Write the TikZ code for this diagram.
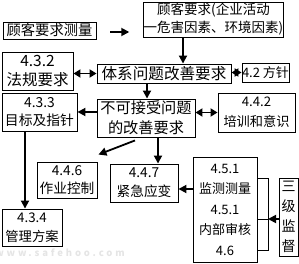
\documentclass[tikz,border=0pt]{standalone}
\usepackage{fontspec}
\setmainfont{Noto Sans CJK SC}
\usetikzlibrary{arrows.meta}
\tikzset{
  box/.style={draw, line width=0.9pt, inner sep=0pt, align=center},
  arr/.style={line width=1.8pt, -{Triangle[length=8pt,width=8pt]}},
  darr/.style={line width=1.8pt, {Triangle[length=7pt,width=8pt]}-{Triangle[length=7pt,width=8pt]}},
  brk/.style={line width=0.9pt},
}
\newcommand{\fs}[2]{\fontsize{#1}{#2}\selectfont}
\begin{document}
\begin{tikzpicture}[x=1pt,y=-1pt]
\useasboundingbox (0,0) rectangle (299,264);
\node[box, minimum width=93pt, minimum height=17pt, font=\fs{14.3}{19}] (A) at (49.5,30.5) {顾客要求测量};
\node[box, minimum width=139pt, minimum height=35pt, font=\fs{13.5}{18}] (B) at (213.5,19.5) {顾客要求(企业活动\\一危害因素、环境因素)};
\node[box, minimum width=134pt, minimum height=19pt, font=\fs{15.6}{19}] (C) at (164,73.5) {体系问题改善要求};
\node[box, minimum width=45pt, minimum height=19pt, font=\fs{13}{19}] (D) at (265.5,72.5) {4.2 方针};
\node[box, minimum width=71pt, minimum height=38pt, font=\fs{15.5}{19.5}] (E) at (37.5,71) {4.3.2\\法规要求};
\node[box, minimum width=98pt, minimum height=38pt, font=\fs{15.2}{20}] (F) at (146,118) {不可接受问题\\的改善要求};
\node[box, minimum width=77pt, minimum height=39pt, font=\fs{13.2}{20}] (G) at (256.5,112.5) {4.4.2\\培训和意识};
\node[box, minimum width=75pt, minimum height=38pt, font=\fs{13.8}{18.5}] (H) at (39.5,112) {4.3.3\\目标及指针};
\node[box, minimum width=60pt, minimum height=36pt, font=\fs{13.7}{18.5}] (I) at (67,180) {4.4.6\\作业控制};
\node[box, minimum width=68pt, minimum height=38pt, font=\fs{13.7}{19}] (J) at (144,183) {4.4.7\\紧急应变};
\node[box, minimum width=64pt, minimum height=105pt, font=\fs{13}{20.5}] (K) at (225,209.5) {4.5.1\\监测测量\\4.5.1\\内部审核\\4.6};
\node[box, minimum width=19pt, minimum height=78pt, font=\fs{14}{20}] (L) at (288.5,217) {三\\级\\监\\督};
\node[box, minimum width=60pt, minimum height=37pt, font=\fs{13.3}{19}] (M) at (32,227.5) {4.3.4\\管理方案};
\node[font=\bfseries\fs{9.5}{10}\addfontfeature{LetterSpace=30}, text=gray!20] (W) at (60,253) {www.safehoo.com};
\coordinate (brt) at (268,178);
\coordinate (brm) at (268,219);
\coordinate (brb) at (268,250);
% connectors
\draw[arr, shorten <=14pt, shorten >=14pt] ([yshift=-1.5pt]A.east) -- ([yshift=-1.5pt]A.east -| B.west);
\draw[arr] ([xshift=-30.5pt]B.south) -- ([xshift=-30.5pt]B.south |- C.north);
\draw[darr] (D.west -| C.east) -- (D.west);
\draw[darr] (C.west -| E.east) -- (C.west);
\draw[arr] ([xshift=-17pt]C.south) -- ([xshift=-17pt]C.south |- F.north);
\draw[darr] (G.west -| F.east) -- (G.west);
\draw[arr] (F.west |- H.east) -- (H.east);
\draw[arr] ([xshift=-11pt,yshift=-3pt]F.south) -- ([xshift=1pt,yshift=7pt]I.north east);
\draw[arr] ([xshift=12pt]F.south) -- ([xshift=12pt]F.south |- J.north);
\draw[arr] ([yshift=20.5pt]K.west) -- ([yshift=20.5pt]K.west -| J.east);
\draw[brk] (K.east |- brt) -- (brt) -- (brb) -- (K.east |- brb);
\draw[brk] (K.east |- brm) -- (brm);
\draw[arr] (L.west |- brm) -- (brm);
\draw[arr] ([xshift=-14.5pt]H.south) -- ([xshift=-14.5pt]H.south |- M.north);
\end{tikzpicture}
\end{document}
